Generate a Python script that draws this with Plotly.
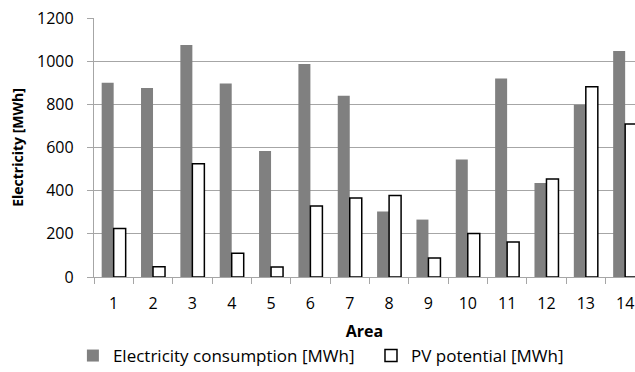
import plotly.graph_objects as go

areas = [str(i) for i in range(1, 15)]
consumption = [900, 876, 1075, 896, 584, 987, 840, 303, 266, 544, 920, 435, 798, 1047]
pv_potential = [225, 48, 525, 110, 46, 329, 366, 378, 88, 202, 162, 454, 882, 709]
y_ticks = [0, 200, 400, 600, 800, 1000, 1200]

FONT = "Open Sans"
GRID = "#a6a6a6"
FS = 16

fig = go.Figure()
fig.add_trace(go.Bar(
    x=areas, y=consumption, name="Electricity consumption [MWh]",
    marker=dict(color="#808080", line=dict(width=0)), legend="legend",
))
fig.add_trace(go.Bar(
    x=areas, y=pv_potential, name="PV potential [MWh]",
    marker=dict(color="#ffffff", line=dict(color="#000000", width=1.5)), legend="legend2",
))

leg_common = dict(
    orientation="h", xref="paper", y=-0.305, yanchor="middle",
    xanchor="left", font=dict(size=17), itemwidth=30, bgcolor="rgba(0,0,0,0)",
)

fig.update_layout(
    width=635, height=372,
    margin=dict(l=94, r=0, t=18, b=95, autoexpand=False),
    paper_bgcolor="white", plot_bgcolor="white",
    barmode="group", bargap=0.39, bargroupgap=0,
    font=dict(family=FONT, size=FS, color="#000000"),
    showlegend=True,
    legend=dict(x=-0.039, **leg_common),
    legend2=dict(x=0.512, **leg_common),
    xaxis=dict(
        type="category", range=[-0.5, 13.25],
        tickson="boundaries", ticks="outside", ticklen=6, tickcolor=GRID,
        showline=True, linecolor=GRID, linewidth=1.3,
        showgrid=False, ticklabelstandoff=12,
        tickfont=dict(size=FS),
        title=dict(text="<b>Area</b>", font=dict(size=FS), standoff=12),
    ),
    yaxis=dict(
        range=[0, 1200], tickvals=y_ticks,
        ticks="outside", ticklen=6, tickcolor=GRID,
        showline=True, linecolor=GRID, linewidth=1.3,
        showgrid=True, gridcolor=GRID, gridwidth=1.3,
        zeroline=False, ticklabelstandoff=10,
        tickfont=dict(size=FS),
        title=dict(text="<b>Electricity [MWh]</b>", font=dict(size=14), standoff=10),
    ),
)

fig.write_html("out.html")
